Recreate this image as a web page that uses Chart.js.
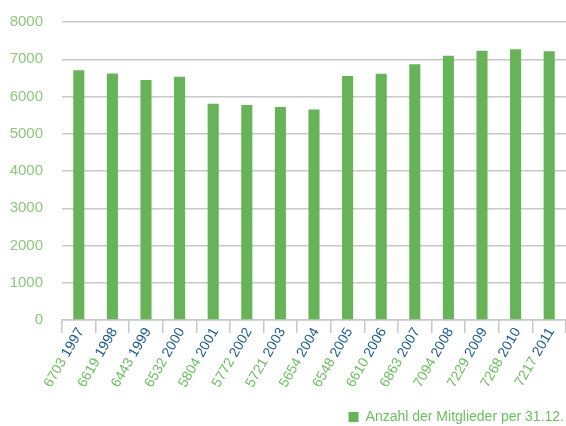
<!DOCTYPE html>
<html>
<head>
<meta charset="utf-8">
<script src="https://cdn.jsdelivr.net/npm/chart.js@4"></script>
<style>
  html, body { margin: 0; padding: 0; background: #fff; }
  #wrap { width: 566px; height: 426px; }
</style>
</head>
<body>
<div id="wrap"><canvas id="myChart"></canvas></div>
<script>
var years = ['1997', '1998', '1999', '2000', '2001', '2002', '2003', '2004',
             '2005', '2006', '2007', '2008', '2009', '2010', '2011'];
var members = [6703, 6619, 6443, 6532, 5804, 5772, 5721, 5654,
               6548, 6610, 6863, 7094, 7229, 7268, 7217];
var yTicks = [0, 1000, 2000, 3000, 4000, 5000, 6000, 7000, 8000];
var seriesName = 'Anzahl der Mitglieder per 31.12.';

var fontName = "'Liberation Sans', Arial, sans-serif";
var barGreen = '#66b358';
var lightGreen = '#8cc97d';
var labelGreen = '#6cbf60';
var labelBlue = '#1f5c8b';

// two coloured, rotated x labels: value in green, year in blue
var xLabels = {
    id: 'xLabels',
    afterDraw: function(chart) {
        var ctx = chart.ctx;
        var xs = chart.scales.x;
        ctx.save();
        ctx.font = '14px ' + fontName;
        ctx.textBaseline = 'middle';
        ctx.textAlign = 'right';
        for (let i = 0; i < years.length; i++) {
            var x = xs.getPixelForValue(i) + 2;
            var y = xs.top + 9;
            ctx.save();
            ctx.translate(x, y);
            ctx.rotate(-Math.PI / 3);
            var yearText = years[i];
            var w = ctx.measureText(yearText).width;
            ctx.fillStyle = labelBlue;
            ctx.fillText(yearText, 0, 0);
            ctx.fillStyle = labelGreen;
            ctx.fillText(members[i] + ' ', -w, 0);
            ctx.restore();
        }
        ctx.restore();
    }
};

var ctx = document.getElementById('myChart').getContext('2d');
var myChart = new Chart(ctx, {
    type: 'bar',
    data: {
        labels: years,
        datasets: [{
            label: seriesName,
            data: members,
            backgroundColor: barGreen,
            borderWidth: 0,
            barPercentage: 0.33,
            categoryPercentage: 1
        }]
    },
    options: {
        responsive: true,
        maintainAspectRatio: false,
        animation: false,
        layout: { padding: { top: 22, left: 0, right: 0, bottom: -8 } },
        plugins: {
            tooltip: { enabled: false },
            legend: {
                position: 'bottom',
                align: 'end',
                labels: {
                    boxWidth: 10,
                    boxHeight: 10,
                    padding: 2,
                    color: labelGreen,
                    font: { family: fontName, size: 14 }
                }
            }
        },
        scales: {
            x: {
                offset: true,
                grid: {
                    offset: true,
                    drawOnChartArea: false,
                    tickLength: 13,
                    color: '#c8c8c8',
                    lineWidth: 1.5
                },
                border: { display: true, color: '#c8c8c8', width: 1.5 },
                ticks: { display: false },
                afterFit: function(scale) { scale.height = 88; }
            },
            y: {
                min: 0,
                max: 8000,
                afterBuildTicks: function(scale) {
                    scale.ticks = yTicks.map(function(v) { return { value: v }; });
                },
                grid: {
                    drawTicks: true,
                    tickLength: 16,
                    tickColor: 'rgba(0,0,0,0)',
                    color: '#c8c8c8',
                    lineWidth: 1.5
                },
                border: { display: false },
                ticks: {
                    padding: 3,
                    color: lightGreen,
                    font: { family: fontName, size: 15 },
                    callback: function(v) { return String(v); }
                },
                afterFit: function(scale) { scale.width = 62; }
            }
        }
    },
    plugins: [xLabels]
});
</script>
</body>
</html>
